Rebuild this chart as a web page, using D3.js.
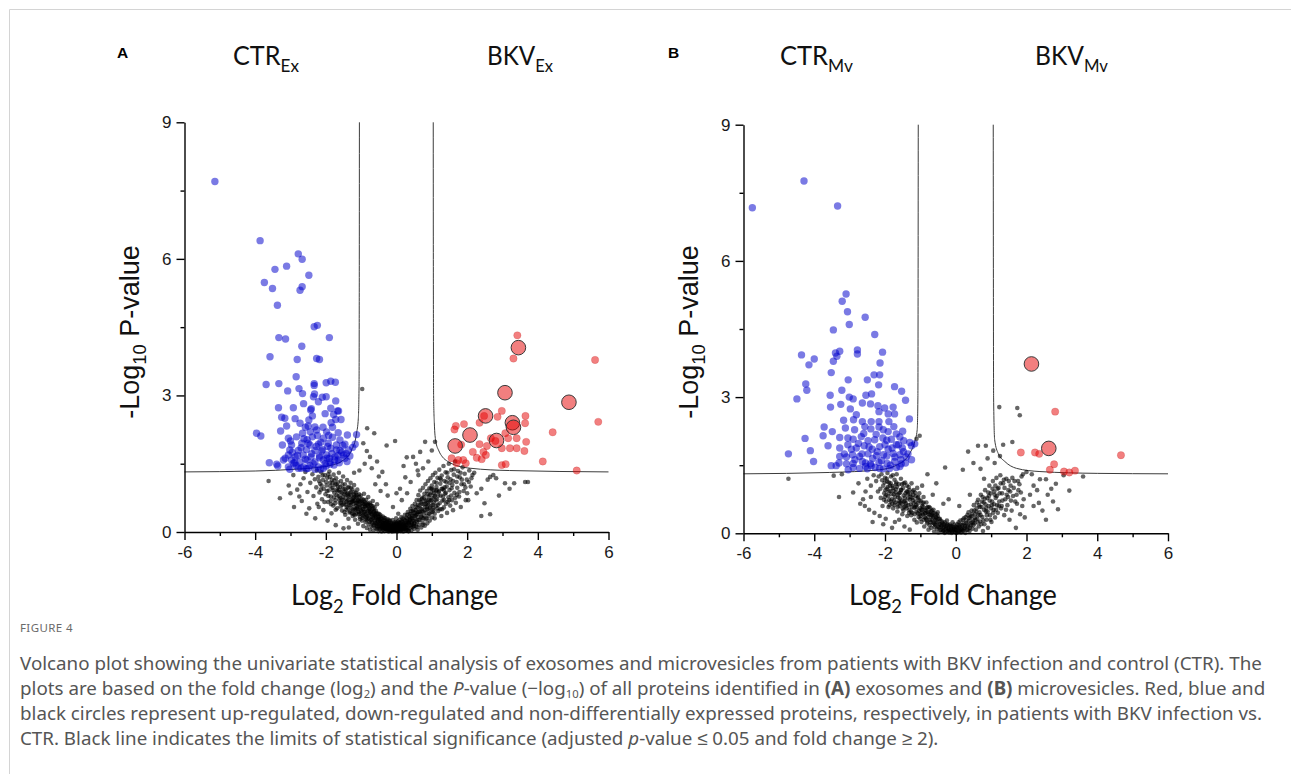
<!DOCTYPE html>
<html>
<head>
<meta charset="utf-8">
<script src="https://cdn.jsdelivr.net/npm/d3@7"></script>
<style>
  body { margin: 0; background: #fff; }
  text { white-space: pre; }
</style>
</head>
<body>
<svg id="chart"></svg>
<script>
// ---- data (log2 fold change, -log10 p) ----
const xTicks = [-6, -4, -2, 0, 2, 4, 6];
const xMinor = [-5, -3, -1, 1, 3, 5];
const yTicks = [0, 3, 6, 9];
const yMinor = [1.5, 4.5, 7.5];

// panel A: exosomes
const blueA = [[-5.14,7.70],[-3.86,6.40],[-2.78,6.11],[-2.67,5.99],[-3.44,5.77],[-3.11,5.84],[-2.48,5.64],[-3.74,5.48],[-3.51,5.35],[-2.67,5.39],[-2.73,5.31],[-3.37,4.98],[-2.33,4.51],[-2.24,4.54],
  [-3.33,4.27],[-3.14,4.24],[-1.90,4.27],[-2.68,4.08],[-3.58,3.85],[-2.81,3.79],[-2.26,3.81],[-2.18,3.79],[-2.84,3.41],[-3.69,3.24],[-3.33,3.26],[-2.33,3.26],[-2.33,3.22],[-1.99,3.28],[-1.86,3.31],[-1.73,3.29],
  [-3.08,3.10],[-2.76,3.15],[-2.66,3.04],[-2.32,3.03],[-2.10,2.96],[-1.99,2.97],[-2.35,2.97],[-2.21,2.86],[-1.72,2.88],[-3.34,2.73],[-2.92,2.73],[-2.63,2.82],[-2.41,2.71],[-2.43,2.68],[-1.86,2.72],[-1.67,2.66],[-1.64,2.66],
  [-3.25,2.52],[-3.16,2.50],[-2.87,2.49],[-2.48,2.46],[-1.72,2.47],[-1.57,2.47],[-3.11,2.33],[-2.73,2.39],[-2.50,2.33],[-2.31,2.31],[-2.08,2.30],[-1.81,2.30],[-3.96,2.17],[-3.84,2.11],[-3.28,2.22],[-2.66,2.17],[-2.26,2.24],[-1.98,2.20],[-1.65,2.18],[-1.39,2.13],[-1.13,2.14],
  [-3.06,2.06],[-2.83,2.09],[-2.53,2.03],[-2.38,2.09],[-2.07,2.06],[-1.81,2.08],[-1.60,2.02],[-2.97,1.91],[-2.68,1.95],[-2.45,1.91],[-2.21,1.93],[-1.93,1.95],[-1.70,1.91],[-1.46,1.93],[-1.17,1.93],[-3.23,1.91],
  [-3.02,1.80],[-2.78,1.79],[-2.55,1.81],[-2.31,1.79],[-2.09,1.81],[-1.86,1.84],[-1.60,1.79],[-1.36,1.80],[-1.24,1.86],[-3.06,1.69],[-2.87,1.65],[-2.64,1.69],[-2.42,1.65],[-2.18,1.67],[-1.98,1.69],[-1.74,1.65],[-1.50,1.69],[-1.32,1.67],
  [-2.97,1.58],[-2.73,1.54],[-2.53,1.58],[-2.31,1.54],[-2.07,1.58],[-1.88,1.54],[-1.65,1.58],[-1.46,1.62],[-3.60,1.52],[-3.39,1.49],[-3.36,1.45],[-3.06,1.43],[-2.84,1.46],[-2.64,1.43],[-2.45,1.46],[-2.21,1.43],[-1.99,1.45],[-1.88,1.49],
  [-3.02,1.38],[-2.78,1.40],[-2.55,1.39],[-2.31,1.38],[-2.07,1.40],[-3.20,1.58],[-2.92,1.51],
  [-3.15,1.62],[-2.95,1.75],[-2.88,1.52],[-2.70,1.85],[-2.58,1.60],[-2.50,1.95],[-2.40,1.72],[-2.36,1.50],[-2.27,1.88],[-2.18,1.63],[-2.12,1.78],[-2.02,1.50],[-1.95,1.88],[-1.90,1.62],[-1.83,1.72],[-1.77,1.47],[-1.70,1.80],[-1.62,1.52],[-1.55,1.75],[-1.52,1.90],[-1.42,1.72],[-1.40,1.55],
  [-2.62,2.05],[-2.44,2.20],[-2.24,2.12],[-2.14,1.97],[-1.92,2.12],[-1.85,2.40],[-2.58,2.30],[-2.38,2.55],[-2.02,2.60],[-1.78,2.58],[-3.00,2.00],[-2.80,1.68],[-2.70,1.40],[-2.50,1.40],[-2.15,1.38],[-1.97,1.62],[-1.75,1.58],[-1.65,1.68]];
const redA = [[3.42,4.32],[3.31,3.81],[5.62,3.78],[2.98,2.66],[2.86,2.53],[3.65,2.55],[5.71,2.42],[3.64,2.39],[2.35,2.40],[1.68,2.33],[1.91,2.37],[1.64,2.25],[4.42,2.19],[2.67,2.06],[3.08,2.17],[3.16,2.06],[3.40,2.06],[3.67,1.98],
  [1.83,1.92],[2.35,1.93],[2.56,1.89],[2.98,1.84],[3.21,1.84],[2.16,1.76],[2.46,1.76],[3.40,1.84],[3.62,1.78],[1.56,1.62],[1.75,1.58],[1.89,1.58],[2.27,1.63],[2.41,1.60],[2.53,1.69],[1.70,1.51],[1.96,1.51],[2.98,1.47],[3.09,1.49],[4.14,1.55],[5.10,1.35],[2.48,2.55],[2.80,2.00]];
const redBigA = [[3.45,4.05],[3.07,3.06],[4.88,2.85],[2.52,2.55],[3.28,2.40],[3.31,2.30],[2.08,2.13],[2.83,2.01],[1.66,1.89]];
const blackA = [[-3.30,0.74],[-2.68,0.68],[-2.47,0.52],[-3.05,1.02],[-2.92,1.25],[-2.81,0.93],[-2.63,1.18],[-2.58,1.32],[-2.52,0.88],[-2.44,1.08],[-2.38,1.27],[-2.35,0.79],[-2.31,1.16],[-2.27,0.98],[-2.25,1.35],[-3.62,1.12],[-2.72,1.05],
  [-2.21,1.21],[-2.18,0.87],[-2.16,1.06],[-2.13,1.31],[-2.11,0.72],[-2.08,1.14],[-2.06,0.95],[-2.07,0.48],[-2.03,1.25],[-2.01,0.83],[-1.98,1.02],[-1.96,1.19],[-1.94,0.66],[-1.92,0.91],[-1.90,1.33],[-1.88,1.08],[-1.86,0.78],[-1.84,0.41],[-1.83,1.15],[-1.81,0.97],[-1.79,0.58],[-1.78,1.26],[-1.76,0.86],[-1.74,1.04],[-1.73,0.70],[-1.71,1.18],[-1.69,0.93],[-1.68,0.52],[-1.66,1.09],[-1.64,0.79],[-1.63,1.30],[-1.61,0.64],[-1.60,0.99],
  [-1.58,0.88],[-1.57,1.12],[-1.55,0.71],[-1.54,0.47],[-1.52,0.95],[-1.51,1.22],[-1.50,0.08],[-1.49,0.62],[-1.48,0.83],[-1.46,1.05],[-1.45,0.38],[-1.44,0.74],[-1.43,0.91],[-1.41,0.55],[-1.40,1.14],[-1.39,0.68],[-1.38,0.84],[-1.36,0.29],[-1.35,0.99],[-1.34,0.60],[-1.33,0.77],[-1.31,0.45],[-1.30,1.08],[-1.29,0.88],[-1.28,0.66],[-1.27,0.52],[-1.25,0.94],[-1.24,0.35],[-1.23,0.73],[-1.22,0.61],[-1.21,0.82],[-1.20,1.03],[-1.19,0.48],[-1.18,0.69],[-1.17,0.27],[-1.16,0.57],[-1.15,0.86],[-1.14,0.40],[-1.13,0.76],[-1.12,0.64],[-1.11,0.93],[-1.10,0.51],[-1.09,0.18],[-1.08,0.71],[-1.07,0.43],[-1.06,0.83],[-1.05,0.59],[-1.04,0.33],[-1.03,0.67],[-1.02,0.49],[-1.01,0.80],
  [-0.99,0.57],[-0.98,0.25],[-0.97,0.72],[-0.96,0.41],[-0.95,0.62],[-0.94,0.13],[-0.93,0.50],[-0.92,0.84],[-0.91,0.34],[-0.90,0.66],[-0.89,0.45],[-0.88,0.22],[-0.87,0.56],[-0.86,0.71],[-0.85,0.38],[-0.84,0.09],[-0.83,0.60],[-0.82,0.29],[-0.81,0.47],[-0.80,0.77],[-0.79,0.17],[-0.78,0.53],[-0.77,0.36],[-0.76,0.64],[-0.75,0.05],[-0.74,0.43],[-0.73,0.26],[-0.72,0.58],[-0.71,0.12],[-0.70,0.39],[-0.69,0.49],[-0.68,0.20],[-0.67,0.68],[-0.66,0.31],[-0.65,0.03],[-0.64,0.44],[-0.63,0.15],[-0.62,0.54],[-0.61,0.24],[-0.60,0.36],[-0.59,0.08],[-0.58,0.46],[-0.57,0.19],[-0.56,0.30],[-0.55,0.61],[-0.54,0.11],[-0.53,0.40],[-0.52,0.23],[-0.51,0.02],[-0.50,0.33],
  [-0.49,0.14],[-0.48,0.27],[-0.47,0.06],[-0.46,0.38],[-0.45,0.18],[-0.44,0.10],[-0.43,0.29],[-0.42,0.01],[-0.41,0.21],[-0.40,0.12],[-0.39,0.34],[-0.38,0.05],[-0.37,0.16],[-0.36,0.25],[-0.35,0.09],[-0.34,0.02],[-0.33,0.19],[-0.32,0.30],[-0.31,0.07],[-0.30,0.13],[-0.29,0.22],[-0.28,0.03],[-0.27,0.10],[-0.26,0.17],[-0.25,0.28],[-0.24,0.05],[-0.23,0.12],[-0.22,0.01],[-0.21,0.20],[-0.20,0.08],[-0.19,0.15],[-0.18,0.24],[-0.17,0.04],[-0.16,0.11],[-0.15,0.02],[-0.14,0.18],[-0.13,0.07],[-0.12,0.13],[-0.11,0.26],[-0.10,0.01],[-0.09,0.09],[-0.08,0.16],[-0.07,0.04],[-0.06,0.21],[-0.05,0.11],[-0.04,0.02],[-0.03,0.07],[-0.02,0.14],[-0.01,0.30],[0.00,0.05],
  [0.01,0.18],[0.02,0.10],[0.03,0.01],[0.04,0.23],[0.05,0.08],[0.06,0.15],[0.07,0.03],[0.08,0.12],[0.09,0.27],[0.10,0.06],[0.11,0.19],[0.12,0.02],[0.13,0.10],[0.14,0.33],[0.15,0.14],[0.16,0.05],[0.17,0.22],[0.18,0.09],[0.19,0.01],[0.20,0.17],[0.21,0.28],[0.22,0.07],[0.23,0.12],[0.24,0.38],[0.25,0.03],[0.26,0.20],[0.27,0.10],[0.28,0.31],[0.29,0.15],[0.30,0.05],[0.31,0.24],[0.32,0.44],[0.33,0.12],[0.34,0.19],[0.35,0.02],[0.36,0.34],[0.37,0.08],[0.38,0.26],[0.39,0.51],[0.40,0.15],[0.41,0.40],[0.42,0.04],[0.43,0.21],[0.44,0.30],[0.45,0.57],[0.46,0.11],[0.47,0.45],[0.48,0.25],[0.49,0.35],[0.50,0.07],
  [0.51,0.18],[0.52,0.62],[0.53,0.29],[0.54,0.48],[0.55,0.13],[0.56,0.38],[0.57,0.70],[0.58,0.22],[0.59,0.53],[0.60,0.05],[0.61,0.33],[0.62,0.81],[0.63,0.44],[0.64,0.16],[0.65,0.58],[0.66,0.27],[0.67,0.91],[0.68,0.40],[0.69,0.66],[0.70,0.10],[0.71,0.50],[0.72,0.31],[0.73,0.75],[0.74,0.21],[0.75,0.97],[0.76,0.45],[0.77,0.61],[0.78,0.36],[0.79,0.84],[0.80,0.14],[0.81,0.55],[0.82,1.05],[0.83,0.28],[0.84,0.70],[0.85,0.42],[0.86,0.90],[0.87,0.19],[0.88,0.63],[0.89,1.12],[0.90,0.35],[0.91,0.78],[0.92,0.50],[0.93,0.96],[0.94,0.25],[0.95,0.68],[0.96,1.18],[0.97,0.43],[0.98,0.86],[0.99,0.58],[1.00,1.02],[1.01,0.32],[1.02,0.74],[1.03,1.25],[1.04,0.52],[1.05,0.92],[1.06,0.65],[1.07,1.10],[1.08,0.40],[1.09,0.80],
  [1.10,1.30],[1.12,0.57],[1.13,0.99],[1.15,0.72],[1.16,1.19],[1.18,0.46],[1.19,0.88],[1.21,1.37],[1.22,0.63],[1.24,1.06],[1.25,0.80],[1.27,0.35],[1.28,1.24],[1.30,0.69],[1.31,0.95],[1.33,1.45],[1.34,0.54],[1.36,1.12],[1.37,0.84],[1.39,1.31],[1.40,0.62],[1.42,1.00],[1.43,0.42],[1.45,1.20],[1.47,0.76],[1.48,1.50],[1.50,0.92],[1.52,0.58],[1.53,1.16],[1.55,1.36],[1.57,0.70],[1.58,1.03],[1.60,0.48],[1.62,1.26],[1.64,0.86],[1.66,1.55],[1.68,0.64],[1.70,1.10],[1.72,0.97],[1.74,1.34],[1.77,0.78],[1.79,1.20],[1.82,0.55],[1.84,1.05],[1.87,1.42],[1.90,0.90],[1.93,1.28],[1.96,0.70],[1.99,1.15],[2.03,0.70],[2.06,1.35],[2.10,1.00],[2.15,1.25],[2.27,0.85],[2.49,0.63],[2.65,0.39],[2.65,1.21],[2.74,1.25],[2.58,1.15],[2.82,1.18],[3.07,1.07],[3.33,1.07],[3.64,1.10],[3.72,1.10],[2.40,0.95],[2.20,1.30],
  [-0.97,3.14],[-0.83,2.28],[-0.63,2.17],[-0.94,1.95],[-0.84,1.78],[-0.75,1.65],[-0.90,1.50],[-0.70,1.40],[-0.55,1.55],[-0.28,1.90],[-0.04,2.00],[-0.40,1.32],[0.20,1.45],[0.29,1.64],[0.47,1.65],[0.55,1.50],[0.67,1.76],[0.75,1.40],[0.81,1.98],[0.90,1.55],[1.00,1.79],[1.09,1.98],[0.62,1.25],[0.40,1.10],[0.30,0.85],[0.15,0.70],[-0.10,0.55],[-0.25,0.80],[-1.05,1.35],[-1.20,1.30],[-0.60,1.05],[-0.45,0.90],[0.05,0.40],[0.10,0.95],
  [-2.12,1.02],[-1.97,0.90],[-1.87,1.00],[-1.77,0.76],[-1.67,0.90],[-1.59,0.75],[-1.53,0.60],[-1.47,0.95],[-1.42,0.66],[-1.37,0.52],[-1.32,0.86],[-1.26,0.70],[-1.21,0.40],[-1.16,0.78],[-1.11,0.55],[-1.06,0.68],[-1.01,0.40],[-0.96,0.50],[-0.91,0.62],[-0.86,0.30],[-0.81,0.58],[-0.76,0.44],[-0.71,0.28],[-0.66,0.52],[-0.61,0.40],[-0.56,0.14],[-0.52,0.34],[-0.47,0.25],[-0.43,0.14],[-0.37,0.20],[-0.33,0.08],[-0.27,0.14],[-0.21,0.09],[-0.14,0.05],[-0.07,0.13],[0.04,0.05],[0.11,0.11],[0.18,0.14],[0.24,0.08],[0.33,0.22],[0.44,0.16],[0.58,0.40],[0.72,0.62],[0.86,0.55],[0.95,0.82],[1.05,0.48],[1.14,0.92],[1.26,1.15],[1.35,0.70],[1.44,1.30],
  [-2.24,0.62],[-2.19,1.12],[-2.14,0.93],[-2.09,1.24],[-2.04,0.66],[-1.99,1.10],[-1.93,0.79],[-1.89,1.21],[-1.85,0.61],[-1.80,0.92],[-1.76,1.13],[-1.72,0.49],[-1.69,0.81],[-1.65,1.00],[-1.62,0.72],[-1.58,0.56],[-1.55,0.86],[-1.53,1.04],[-1.50,0.70],[-1.47,0.44],[-1.44,0.60],[-1.41,0.82],[-1.38,0.97],[-1.36,0.71],[-1.33,0.43],[-1.30,0.59],[-1.28,0.80],[-1.25,0.67],[-1.23,0.50],[-1.20,0.76],[-1.18,0.37],[-1.15,0.64],[-1.13,0.52],[-1.10,0.69],[-1.08,0.45],[-1.05,0.77],[-1.03,0.28],[-1.00,0.47],[-0.98,0.64],[-0.95,0.36],[-0.93,0.71],[-0.90,0.55],[-0.88,0.39],[-0.85,0.26],[-0.83,0.45],[-0.80,0.62],[-0.78,0.30],[-0.75,0.51],[-0.73,0.40],[-0.70,0.22],[-0.68,0.57],[-0.65,0.35],[-0.63,0.46],[-0.60,0.19],[-0.58,0.33],[-0.55,0.07],[-0.53,0.26],[-0.50,0.40],[-0.48,0.19],[-0.45,0.29],[-0.42,0.09],[-0.40,0.24],[-0.38,0.15],[-0.35,0.31],[-0.33,0.11],[-0.30,0.19],[-0.28,0.06],[-0.26,0.24],[-0.23,0.16],[-0.20,0.03],[-0.18,0.10],[-0.16,0.20],[-0.13,0.02],[-0.11,0.08],[-0.09,0.18],[-0.06,0.05],[-0.04,0.12],[-0.02,0.22],[0.01,0.03],[0.03,0.13],[0.06,0.09],[0.08,0.20],[0.10,0.15],[0.13,0.05],[0.15,0.24],[0.17,0.13],[0.20,0.09],[0.22,0.20],[0.25,0.16],[0.27,0.05],[0.30,0.29],[0.32,0.09],[0.35,0.20],[0.37,0.40],[0.40,0.30],[0.42,0.13],[0.45,0.24],[0.48,0.48],[0.50,0.19],[0.53,0.36],[0.55,0.55],[0.58,0.11],[0.60,0.44],[0.63,0.26],[0.65,0.70],[0.68,0.52],[0.70,0.34],[0.73,0.45],[0.75,0.16],[0.78,0.76],[0.80,0.48],[0.83,0.62],[0.85,0.30],[0.88,0.83],[0.90,0.60],[0.93,0.40],[0.95,0.53],[0.98,0.70],[1.01,0.95],[1.03,0.60],[1.06,0.85],[1.08,0.30],[1.11,0.70],[1.13,1.08],[1.16,0.52],[1.18,0.80],[1.21,0.90],[1.24,0.50],[1.28,0.95],[1.32,0.78],[1.36,0.98],[1.40,0.86],[1.45,0.66],[1.50,1.08],[1.55,0.80],[1.60,1.12],[1.66,0.75],[1.72,1.22],[1.78,0.88],[1.85,1.15],[1.95,0.98],[2.05,1.10],
  [-2.90,0.55],[-2.55,0.40],[-2.30,0.30],[-1.95,0.25],[-1.72,0.15],[-1.35,0.10],[-3.00,0.85],[-2.75,0.78],[-2.20,0.55],[-0.50,1.22],[-0.30,1.05],[0.00,0.85],[0.25,1.20],[0.60,1.35],[2.40,0.35],[2.90,0.80],[3.20,0.95],
  [-1.93,1.27],[-1.86,0.69],[-1.81,1.07],[-1.74,0.63],[-1.70,1.05],[-1.63,0.92],[-1.57,0.64],[-1.52,0.78],[-1.46,0.88],[-1.42,0.49],[-1.37,0.80],[-1.33,0.64],[-1.29,0.97],[-1.26,0.41],[-1.22,0.68],[-1.19,0.87],[-1.16,0.49],[-1.12,0.81],[-1.09,0.62],[-1.06,0.39],[-1.03,0.55],[-0.99,0.69],[-0.96,0.31],[-0.92,0.44],[-0.89,0.57],[-0.86,0.63],[-0.83,0.35],[-0.79,0.51],[-0.77,0.22],[-0.74,0.60],[-0.71,0.45],[-0.68,0.32],[-0.66,0.14],[-0.63,0.38],[-0.60,0.27],[-0.57,0.41],[-0.54,0.18],[-0.51,0.29],[-0.48,0.10],[-0.45,0.34],[-0.42,0.20],[-0.39,0.09],[-0.36,0.13],[-0.33,0.26],[-0.30,0.08],[-0.27,0.21],[-0.24,0.13],[-0.21,0.26],[-0.18,0.06],[-0.15,0.14],[-0.12,0.04],[-0.09,0.12],[-0.06,0.17],[-0.03,0.10],[0.00,0.20],[0.03,0.06],[0.06,0.18],[0.09,0.11],[0.12,0.22],[0.15,0.08],[0.18,0.30],[0.21,0.13],[0.24,0.25],[0.27,0.16],[0.30,0.38],[0.33,0.02],[0.36,0.22],[0.39,0.30],[0.42,0.46],[0.45,0.36],[0.49,0.14],[0.52,0.42],[0.56,0.25],[0.61,0.60],[0.66,0.44],[0.71,0.72],[0.76,0.30],[0.81,0.68],[0.87,0.50],[0.92,0.70],[0.97,0.95],[1.02,0.44],[1.07,0.78],[1.12,0.90],[1.17,0.60],[1.23,1.18],[1.29,0.50],[1.34,0.92],[1.41,1.10],[1.49,0.70],[1.56,0.96],[1.63,1.38],[1.71,0.82],[1.81,1.30],[1.91,1.05],[2.00,0.85],[2.12,1.18]];
const curveLeftA = [[-6,1.32],[-4,1.34],[-2.83,1.38],[-2.2,1.42],[-1.88,1.46],[-1.5,1.58],[-1.27,1.8],[-1.13,2.17],[-1.08,2.5],[-1.06,3.2],[-1.055,4.6],[-1.052,6.5],[-1.05,9]];
const curveRightA = [[1.04,9],[1.042,6.5],[1.045,4.5],[1.05,3.0],[1.07,2.4],[1.11,2.0],[1.2,1.78],[1.3,1.65],[1.45,1.55],[1.7,1.46],[2.1,1.4],[3.2,1.35],[6,1.32]];

// panel B: microvesicles
const blueB = [[-5.75,7.17],[-4.29,7.76],[-3.34,7.21],[-3.10,5.27],[-3.21,5.11],[-3.06,4.88],[-2.56,4.76],[-3.01,4.60],[-3.46,4.48],
  [-2.29,4.38],[-4.36,3.93],[-4.00,3.84],[-4.15,3.71],[-3.40,3.97],[-3.28,4.01],[-3.36,3.90],[-3.46,3.79],[-2.78,4.04],[-2.78,3.95],[-2.07,3.99],[-2.14,3.75],[-3.52,3.54],[-3.04,3.38],[-2.50,3.38],[-2.31,3.49],[-2.15,3.49],[-2.18,3.27],
  [-4.24,3.29],[-4.21,3.15],[-4.49,2.96],[-3.55,3.04],[-3.22,3.15],[-3.01,3.00],[-2.90,2.96],[-2.54,3.04],[-2.38,3.07],[-1.73,3.23],[-1.53,3.13],[-1.42,2.93],[-3.54,2.78],[-3.25,2.84],[-2.98,2.74],[-2.81,2.61],[-2.64,2.87],[-2.41,2.85],[-2.20,2.81],[-2.01,2.76],[-1.77,2.78],[-2.17,2.68],[-1.91,2.63],[-1.73,2.63],
  [-3.17,2.49],[-2.89,2.50],[-2.64,2.46],[-2.39,2.46],[-2.17,2.46],[-1.89,2.46],[-1.31,2.52],[-3.72,2.34],[-3.75,2.15],[-3.49,2.24],[-3.12,2.32],[-2.86,2.28],[-2.57,2.35],[-2.17,2.34],[-1.91,2.24],[-1.68,2.19],
  [-4.26,2.09],[-3.61,1.93],[-3.28,2.11],[-3.05,2.10],[-2.90,2.07],[-2.67,2.13],[-2.48,2.04],[-2.29,2.06],[-2.06,2.10],[-1.82,2.07],[-1.58,2.12],[-1.47,2.04],[-1.30,2.00],[-1.16,1.97],
  [-4.73,1.75],[-4.11,1.82],[-3.28,1.88],[-3.05,1.95],[-2.81,1.88],[-2.59,1.93],[-2.36,1.85],[-2.15,1.91],[-1.91,1.85],[-1.68,1.95],[-1.51,1.88],[-1.25,1.93],
  [-4.02,1.58],[-3.52,1.49],[-3.38,1.49],[-3.28,1.69],[-3.09,1.68],[-2.92,1.73],[-2.72,1.69],[-2.48,1.75],[-2.24,1.71],[-2.04,1.73],[-1.77,1.76],[-1.58,1.73],[-1.40,1.68],
  [-3.09,1.53],[-2.90,1.54],[-2.64,1.58],[-2.41,1.53],[-2.17,1.56],[-1.94,1.54],[-1.73,1.58],[-1.54,1.53],[-3.04,1.40],[-2.72,1.43],[-2.39,1.49],[-2.15,1.43],[-1.87,1.43],[-1.58,1.47],[-2.55,1.47],
  [-2.95,1.85],[-2.85,1.62],[-2.75,1.98],[-2.65,1.75],[-2.55,1.55],[-2.45,1.90],[-2.35,1.65],[-2.28,1.45],[-2.22,1.80],[-2.10,1.60],[-2.00,1.95],[-1.95,1.70],[-1.85,1.50],[-1.80,1.88],[-1.72,1.68],[-1.62,1.95],[-1.55,1.62],[-1.48,1.80],[-1.42,1.55],[-1.35,1.75],[-1.25,1.62],
  [-2.60,2.20],[-2.40,2.30],[-2.25,2.18],[-2.05,2.28],[-1.95,2.05],[-1.75,2.35],[-1.50,2.25],[-3.15,1.75],[-3.30,1.55],[-2.90,1.45],[-2.50,1.42],[-2.05,1.42],[-1.68,1.45]];
const redB = [[2.81,2.68],[1.84,1.78],[2.24,1.78],[2.36,1.75],[4.67,1.72],[2.78,1.52],[2.66,1.40],[3.06,1.36],[3.21,1.34],[3.37,1.38]];
const redBigB = [[2.14,3.73],[2.63,1.87]];
const blackB = [[-4.73,1.20],[-3.45,1.27],[-3.22,1.30],[-2.57,0.60],[-2.45,0.52],[-2.62,0.75],[-2.30,0.45],[-2.15,0.38],[-1.98,0.32],[-1.72,0.25],[-1.45,0.15],[-1.60,0.30],[-2.75,1.10],[-2.50,1.20],[-2.40,1.05],[-2.32,1.28],[-2.20,0.92],[-2.25,1.15],[-2.10,1.30],[-2.12,0.78],
  [-2.05,1.05],[-2.02,0.88],[-2.00,1.22],[-1.97,0.70],[-1.95,0.98],[-1.93,1.33],[-1.91,0.82],[-1.89,1.12],[-1.87,0.62],[-1.85,0.93],[-1.83,1.25],[-1.81,0.75],[-1.79,1.04],[-1.77,0.55],[-1.75,0.86],[-1.73,1.18],[-1.71,0.68],[-1.69,0.97],[-1.67,1.30],[-1.65,0.48],[-1.63,0.79],[-1.61,1.08],[-1.59,0.60],[-1.57,0.90],[-1.55,1.20],[-1.53,0.72],[-1.51,0.42],[-1.49,1.00],[-1.47,0.83],[-1.45,0.58],[-1.43,1.12],[-1.41,0.66],[-1.39,0.92],[-1.37,0.38],[-1.35,0.77],[-1.33,1.02],[-1.31,0.52],[-1.29,0.86],[-1.27,0.64],[-1.25,1.10],[-1.23,0.45],[-1.21,0.73],[-1.19,0.95],[-1.17,0.30],[-1.15,0.58],[-1.13,0.82],[-1.11,0.48],[-1.09,1.00],[-1.07,0.66],[-1.05,0.36],[-1.03,0.88],[-1.01,0.55],
  [-0.99,0.72],[-0.97,0.25],[-0.95,0.60],[-0.93,0.42],[-0.91,0.80],[-0.89,0.15],[-0.87,0.52],[-0.85,0.33],[-0.83,0.68],[-0.81,0.22],[-0.79,0.46],[-0.77,0.08],[-0.75,0.58],[-0.73,0.30],[-0.71,0.40],[-0.69,0.12],[-0.67,0.50],[-0.65,0.24],[-0.63,0.35],[-0.61,0.04],[-0.59,0.44],[-0.57,0.18],[-0.55,0.28],[-0.53,0.10],[-0.51,0.38],[-0.49,0.02],[-0.47,0.21],[-0.45,0.32],[-0.43,0.07],[-0.41,0.15],
  [-0.39,0.26],[-0.37,0.04],[-0.35,0.12],[-0.33,0.20],[-0.31,0.01],[-0.29,0.09],[-0.27,0.16],[-0.25,0.28],[-0.23,0.05],[-0.21,0.11],[-0.19,0.02],[-0.17,0.19],[-0.15,0.07],[-0.13,0.13],[-0.11,0.01],[-0.09,0.24],[-0.07,0.06],[-0.05,0.10],[-0.03,0.03],[-0.01,0.15],[0.01,0.07],[0.03,0.01],[0.05,0.20],[0.07,0.11],[0.09,0.04],[0.11,0.14],[0.13,0.28],[0.15,0.02],[0.17,0.09],[0.19,0.18],[0.21,0.06],[0.23,0.33],[0.25,0.12],[0.27,0.01],[0.29,0.22],[0.31,0.08],[0.33,0.40],[0.35,0.15],[0.37,0.27],[0.39,0.05],
  [0.41,0.35],[0.43,0.18],[0.45,0.50],[0.47,0.10],[0.49,0.28],[0.51,0.62],[0.53,0.22],[0.55,0.42],[0.57,0.08],[0.59,0.55],[0.61,0.32],[0.63,0.74],[0.65,0.15],[0.67,0.46],[0.69,0.26],[0.71,0.85],[0.73,0.58],[0.75,0.36],[0.77,0.05],[0.79,0.68],[0.81,0.20],[0.83,0.95],[0.85,0.48],[0.87,0.30],[0.89,0.78],[0.91,0.12],[0.93,0.60],[0.95,1.05],[0.97,0.40],[0.99,0.88],[1.01,0.25],[1.03,0.70],[1.05,1.15],[1.07,0.52],[1.09,0.92],[1.11,0.35],[1.13,0.78],[1.15,1.22],[1.17,0.62],[1.19,0.45],[1.21,1.00],[1.23,0.70],[1.26,1.28],[1.28,0.55],[1.31,0.88],[1.34,1.10],[1.37,0.40],[1.40,0.75],[1.43,1.20],[1.46,0.62],[1.49,0.95],[1.52,0.30],[1.55,1.05],[1.58,0.50],[1.62,0.82],[1.66,1.15],[1.70,0.12],[1.73,0.65],[1.77,0.95],[1.82,0.42],[1.86,1.25],[1.92,0.75],
  [2.00,1.35],[1.90,1.30],[2.15,1.30],[2.38,1.19],[2.55,1.19],[2.83,1.09],[3.21,0.94],[3.60,1.25],[2.89,0.53],[2.45,0.50],[2.35,0.67],[2.10,0.85],[2.30,0.95],[2.60,0.85],[3.05,1.28],[2.20,1.05],[2.70,0.98],
  [-1.11,2.08],[-1.02,2.15],[1.23,2.78],[1.74,2.76],[1.81,2.60],[1.34,1.95],[1.60,2.01],[0.63,1.93],[0.85,1.93],[0.35,1.80],[1.06,1.82],[1.25,1.70],[0.90,1.65],[0.50,1.55],[1.10,1.55],[0.20,1.40],[0.70,1.42],[-0.30,1.45],[-0.80,1.30],[-0.55,1.10],[-0.20,0.75],[0.10,0.60],
  [-2.08,1.17],[-2.03,0.74],[-1.99,0.95],[-1.94,1.14],[-1.90,0.58],[-1.86,1.05],[-1.82,0.86],[-1.78,1.28],[-1.74,0.72],[-1.70,0.90],[-1.66,1.02],[-1.62,0.66],[-1.58,0.77],[-1.54,0.96],[-1.50,0.55],[-1.46,0.70],[-1.42,0.88],[-1.38,1.05],[-1.34,0.62],[-1.30,0.74],[-1.26,0.40],[-1.22,0.92],[-1.18,0.56],[-1.14,0.70],[-1.10,0.24],[-1.06,0.80],[-1.02,0.42],[-0.98,0.52],[-0.94,0.66],[-0.90,0.30],[-0.86,0.44],[-0.82,0.56],[-0.78,0.36],[-0.74,0.18],[-0.70,0.48],[-0.66,0.38],[-0.62,0.22],[-0.58,0.30],[-0.54,0.42],[-0.50,0.14],
  [-2.18,1.25],[-2.13,0.98],[-2.07,0.60],[-2.01,1.12],[-1.96,0.85],[-1.92,1.02],[-1.88,0.74],[-1.84,1.10],[-1.80,0.65],[-1.76,0.94],[-1.72,0.80],[-1.68,1.12],[-1.64,0.58],[-1.60,0.88],[-1.56,0.68],[-1.52,1.08],[-1.48,0.50],[-1.44,0.78],[-1.40,0.60],[-1.36,0.92],[-1.32,0.45],[-1.28,0.80],[-1.24,0.58],[-1.20,0.85],[-1.16,0.42],[-1.12,0.62],[-1.08,0.78],[-1.04,0.50],[-1.00,0.32],[-0.96,0.45],[-0.92,0.58],[-0.88,0.36],[-0.84,0.50],[-0.80,0.26],[-0.76,0.42],[-0.72,0.55],[-0.68,0.30],[-0.64,0.44],[-0.60,0.14],[-0.56,0.36],[-0.52,0.24],[-0.48,0.32],[-0.44,0.19],[-0.40,0.08],[-0.36,0.22],[-0.32,0.14],[-0.28,0.04],[-0.24,0.18],[-0.20,0.09],[-0.16,0.03],[-0.12,0.16],[-0.08,0.09],[-0.04,0.19],[0.00,0.02],[0.04,0.13],[0.08,0.24],[0.12,0.06],[0.16,0.17],[0.20,0.30],[0.24,0.10],[0.28,0.36],[0.32,0.18],[0.36,0.46],[0.40,0.12],[0.44,0.38],[0.48,0.24],[0.52,0.50],[0.56,0.30],[0.60,0.68],[0.64,0.40],[0.68,0.58],[0.72,0.20],[0.76,0.80],[0.80,0.52],[0.84,0.64],[0.88,0.40],[0.92,0.90],[0.96,0.72],[1.00,0.55],[1.04,0.98],[1.08,0.64],[1.12,1.05],[1.16,0.82],[1.22,0.60],[1.27,1.10],[1.32,0.72],[1.38,1.00],[1.44,0.85],[1.50,1.15],[1.56,0.72],[1.64,1.00],[1.72,0.85],[1.80,1.08],[1.88,0.60],
  [-2.40,0.80],[-2.55,0.92],[-2.70,0.65],[-2.90,0.90],[-3.30,0.80],[-2.35,0.25],[-2.05,0.20],[-1.80,0.12],[-1.30,0.08],[-0.95,1.05],[-0.65,0.85],[-0.35,0.65],[0.40,0.85],[0.80,1.20],[2.55,0.30],[2.75,0.70],[1.95,0.35],[2.20,0.60],
  [-2.00,0.80],[-1.95,1.20],[-1.89,0.92],[-1.84,0.70],[-1.78,1.00],[-1.73,0.62],[-1.69,1.08],[-1.64,0.85],[-1.60,0.70],[-1.55,0.95],[-1.51,0.64],[-1.47,1.10],[-1.43,0.70],[-1.39,0.55],[-1.35,0.86],[-1.31,0.95],[-1.27,0.48],[-1.23,0.78],[-1.19,0.66],[-1.15,0.90],[-1.11,0.58],[-1.07,0.44],[-1.03,0.72],[-0.99,0.38],[-0.95,0.52],[-0.91,0.68],[-0.87,0.44],[-0.83,0.30],[-0.79,0.58],[-0.75,0.46],[-0.71,0.24],[-0.67,0.40],[-0.63,0.52],[-0.59,0.20],[-0.55,0.34],[-0.51,0.46],[-0.47,0.12],[-0.43,0.28],[-0.39,0.18],[-0.35,0.06],[-0.31,0.24],[-0.27,0.12],[-0.23,0.20],[-0.19,0.08],[-0.15,0.16],[-0.11,0.05],[-0.07,0.14],[-0.03,0.08],[0.02,0.12],[0.06,0.04],[0.10,0.18],[0.14,0.10],[0.18,0.06],[0.22,0.22],[0.26,0.16],[0.30,0.28],[0.34,0.08],[0.38,0.34],[0.42,0.22],[0.46,0.42],[0.50,0.18],[0.54,0.34],[0.58,0.48],[0.62,0.24],[0.66,0.62],[0.70,0.40],[0.74,0.70],[0.78,0.28],[0.82,0.76],[0.86,0.56],[0.90,0.48],[0.94,0.82],[0.98,0.30],[1.02,0.62],[1.06,0.45],[1.10,0.85],[1.14,0.52],[1.18,0.98],[1.24,0.88],[1.30,0.60],[1.36,1.18],[1.42,0.52],[1.48,0.80],[1.54,0.92],[1.60,1.22],[1.68,0.70],[1.76,1.15],[1.84,0.90]];
const curveLeftB = [[-6,1.31],[-3.56,1.34],[-2.15,1.40],[-1.58,1.54],[-1.30,1.76],[-1.16,2.02],[-1.09,2.28],[-1.07,3.0],[-1.065,5],[-1.06,9]];
const curveRightB = [[1.06,9],[1.065,5],[1.07,3.0],[1.10,2.06],[1.20,1.76],[1.39,1.58],[1.72,1.43],[2.38,1.36],[4,1.32],[6,1.31]];

// ---- text ----
const captionLines = [
  [{t: 'Volcano plot showing the univariate statistical analysis of exosomes and microvesicles from patients with BKV infection and control (CTR). The'}],
  [{t: 'plots are based on the fold change (log'}, {t: '2', sub: true}, {t: ') and the '}, {t: 'P', italic: true}, {t: '-value (\u2212log'}, {t: '10', sub: true}, {t: ') of all proteins identified in '}, {t: '(A)', bold: true}, {t: ' exosomes and '}, {t: '(B)', bold: true}, {t: ' microvesicles. Red, blue and'}],
  [{t: 'black circles represent up-regulated, down-regulated and non-differentially expressed proteins, respectively, in patients with BKV infection vs.'}],
  [{t: 'CTR. Black line indicates the limits of statistical significance (adjusted '}, {t: 'p', italic: true}, {t: '-value \u2264 0.05 and fold change \u2265 2).'}]
];

const W = 1291, H = 774;
const svg = d3.select('#chart').attr('width', W).attr('height', H);
svg.append('rect').attr('width', W).attr('height', H).attr('fill', '#fff');
svg.append('path').attr('d', `M9.5,${H} V9.5 H${W}`).attr('fill', 'none').attr('stroke', '#d4d4d4');

// draws a run of text pieces (sub/italic/bold) from 0,0 and returns its width
function rich(parent, parts, size, family, fill, subScale = 0.68, subDrop = 0.28) {
  let cx = 0;
  parts.forEach(pt => {
    const t = parent.append('text')
      .attr('x', cx)
      .attr('y', pt.sub ? size * subDrop : 0)
      .attr('font-family', family)
      .attr('font-size', pt.sub ? size * subScale : size)
      .attr('font-weight', pt.bold ? 'bold' : 'normal')
      .attr('font-style', pt.italic ? 'italic' : 'normal')
      .attr('fill', fill)
      .text(pt.t);
    cx += t.node().getComputedTextLength();
  });
  return cx;
}

function placeText(parts, x, y, size, family, fill, targetW) {
  const g = svg.append('g');
  const w = rich(g, parts, size, family, fill);
  const sx = targetW ? targetW / w : 1;
  g.attr('transform', `translate(${x},${y}) scale(${sx},1)`);
  return g;
}

const calibri = 'Lato, "Noto Sans", sans-serif';
const arial = '"Liberation Sans", Arial, sans-serif';

const panels = [
  { left: 184.5, top: 122.3, width: 424, height: 409.7, letter: 'A', letterX: 117, sub: 'Ex',
    ctrX: 233, bkvX: 487, titleW: 66, axisTitleX: 291, axisTitleW: 207,
    black: blackA, blue: blueA, red: redA, redBig: redBigA, curveL: curveLeftA, curveR: curveRightA },
  { left: 743.5, top: 124.7, width: 424.5, height: 408.6, letter: 'B', letterX: 668, sub: 'Mv',
    ctrX: 780, bkvX: 1035, titleW: 73, axisTitleX: 849, axisTitleW: 208,
    black: blackB, blue: blueB, red: redB, redBig: redBigB, curveL: curveLeftB, curveR: curveRightB }
];

panels.forEach(p => {
  const x = d3.scaleLinear().domain([-6, 6]).range([0, p.width]);
  const y = d3.scaleLinear().domain([0, 9]).range([p.height, 0]);
  const g = svg.append('g').attr('transform', `translate(${p.left},${p.top})`);

  // significance limits
  const line = d3.line().x(d => x(d[0])).y(d => y(d[1])).curve(d3.curveMonotoneX);
  [p.curveL, p.curveR].forEach(c => {
    g.append('path').datum(c).attr('d', line)
      .attr('fill', 'none').attr('stroke', '#3c3c3c').attr('stroke-width', 1);
  });

  // non-significant proteins
  g.append('g').selectAll('circle').data(p.black).join('circle')
    .attr('cx', d => x(d[0])).attr('cy', d => y(d[1])).attr('r', 2.3)
    .attr('fill', '#000').attr('fill-opacity', 0.6);

  // down-regulated
  g.append('g').selectAll('circle').data(p.blue).join('circle')
    .attr('cx', d => x(d[0])).attr('cy', d => y(d[1])).attr('r', 3.7)
    .attr('fill', '#0000cc').attr('fill-opacity', 0.52);

  // up-regulated
  g.append('g').selectAll('circle').data(p.red).join('circle')
    .attr('cx', d => x(d[0])).attr('cy', d => y(d[1])).attr('r', 3.7)
    .attr('fill', '#e60000').attr('fill-opacity', 0.5)
    .attr('stroke', '#a00').attr('stroke-opacity', 0.25).attr('stroke-width', 0.6);
  g.append('g').selectAll('circle').data(p.redBig).join('circle')
    .attr('cx', d => x(d[0])).attr('cy', d => y(d[1])).attr('r', 7.3)
    .attr('fill', '#e60000').attr('fill-opacity', 0.5)
    .attr('stroke', '#3a3a3a').attr('stroke-width', 1);

  // axes
  g.append('g').attr('transform', `translate(0,${p.height})`)
    .call(d3.axisBottom(x).tickValues(xTicks).tickFormat(d => String(d)).tickSize(8).tickPadding(6).tickSizeOuter(0));
  g.append('g').attr('transform', `translate(0,${p.height})`)
    .call(d3.axisBottom(x).tickValues(xMinor).tickSize(4).tickFormat('').tickSizeOuter(0))
    .call(s => s.select('.domain').remove());
  g.append('g')
    .call(d3.axisLeft(y).tickValues(yTicks).tickFormat(d => String(d)).tickSize(8).tickPadding(5).tickSizeOuter(0));
  g.append('g')
    .call(d3.axisLeft(y).tickValues(yMinor).tickSize(4).tickFormat('').tickSizeOuter(0))
    .call(s => s.select('.domain').remove());
  g.selectAll('.domain, .tick line').attr('stroke', '#000').attr('stroke-width', 1.4);
  g.selectAll('.tick text').attr('font-family', arial).attr('font-size', 17).attr('fill', '#1a1a1a');

  // panel letter and group titles
  svg.append('text').attr('x', p.letterX).attr('y', 58)
    .attr('font-family', arial).attr('font-weight', 'bold').attr('font-size', 15.5).text(p.letter);
  placeText([{t: 'CTR'}, {t: p.sub, sub: true}], p.ctrX, 65, 26, calibri, '#111', p.titleW);
  placeText([{t: 'BKV'}, {t: p.sub, sub: true}], p.bkvX, 65, 26, calibri, '#111', p.titleW);

  // axis titles
  placeText([{t: 'Log'}, {t: '2', sub: true}, {t: ' Fold Change'}], p.axisTitleX, 605, 29, calibri, '#111', p.axisTitleW);
  const yt = svg.append('g');
  const yw = rich(yt, [{t: '-Log'}, {t: '10', sub: true}, {t: ' P-value'}], 27, arial, '#111');
  yt.attr('transform', `translate(${p.left - 46},${332 + yw / 2}) rotate(-90)`);
});

// caption
svg.append('text').attr('x', 20).attr('y', 632)
  .attr('font-family', '"Noto Sans", sans-serif').attr('font-size', 11.5)
  .attr('letter-spacing', 0.4).attr('fill', '#6a6a6a').text('FIGURE 4');

const capFont = '"Noto Sans", sans-serif';
const probe = svg.append('g');
const probeW = rich(probe, captionLines[0], 15.5, capFont, '#000');
probe.remove();
const capSize = 15.5 * 1243 / probeW;
captionLines.forEach((ln, i) => {
  const g = svg.append('g').attr('transform', `translate(20,${669.5 + i * 25})`);
  rich(g, ln, capSize, capFont, '#555', 0.6, 0.18);
});
</script>
</body>
</html>
